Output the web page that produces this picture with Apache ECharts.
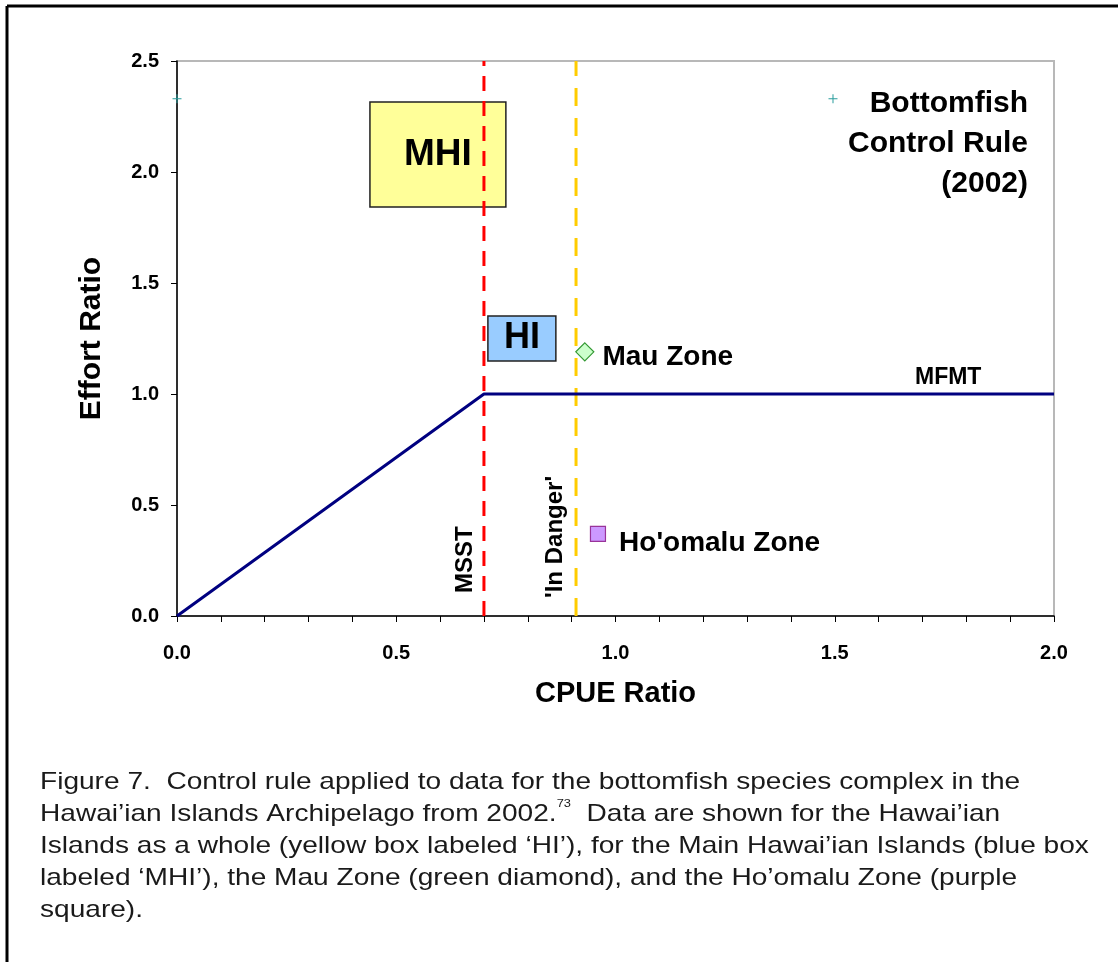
<!DOCTYPE html>
<html>
<head>
<meta charset="utf-8">
<script src="https://cdn.jsdelivr.net/npm/echarts@6/dist/echarts.min.js"></script>
<style>
html,body{margin:0;padding:0;background:#fff;}
#c{width:1118px;height:962px;}
</style>
</head>
<body>
<div id="c"></div>
<script>
// ---- data ----
var ruleX = [0.0, 0.7, 2.0];
var ruleY = [0.0, 1.0, 1.0];
var msstX = 0.7;
var inDangerX = 0.91;
var mauZone = [0.93, 1.19];
var homaluZone = [0.96, 0.37];
var plusPoints = [[0.0, 2.33], [1.496, 2.33]];
var mhiBox = [[0.44, 2.315], [0.75, 1.842]];
var hiBox = [[0.709, 1.351], [0.864, 1.149]];
var xTicks = {min: 0, max: 2.0, interval: 0.1};
var yTicks = {min: 0, max: 2.5, interval: 0.5};

var FONT = 'Liberation Sans, Arial, Helvetica, sans-serif';
var chart = echarts.init(document.getElementById('c'));

function dashed(x, color, dash) {
  return {
    type: 'line', silent: true, symbol: 'none',
    data: [[x, yTicks.min], [x, yTicks.max]],
    lineStyle: {color: color, width: 3, type: dash},
    z: 3
  };
}

var option = {
  backgroundColor: '#fff',
  animation: false,
  grid: {left: 177, top: 61, right: 64, bottom: 346, show: true, borderColor: '#b8b8b8', borderWidth: 2, backgroundColor: 'transparent'},
  xAxis: {
    type: 'value', min: xTicks.min, max: xTicks.max, interval: xTicks.interval,
    name: 'CPUE Ratio', nameLocation: 'middle', nameGap: 63,
    nameTextStyle: {fontFamily: FONT, fontWeight: 'bold', fontSize: 29, color: '#000'},
    axisLine: {show: true, onZero: false, lineStyle: {color: '#000', width: 1.5}},
    axisTick: {show: true, length: 6, inside: false, lineStyle: {color: '#000', width: 1}},
    splitLine: {show: false},
    axisLabel: {
      margin: 27, fontFamily: FONT, fontWeight: 'bold', fontSize: 20, color: '#000',
      formatter: function (v) { var d = v * 2; return Math.abs(d - Math.round(d)) < 1e-6 ? v.toFixed(1) : ''; }
    }
  },
  yAxis: {
    type: 'value', min: yTicks.min, max: yTicks.max, interval: yTicks.interval,
    name: 'Effort Ratio', nameLocation: 'middle', nameGap: 70, nameRotate: 90,
    nameTextStyle: {fontFamily: FONT, fontWeight: 'bold', fontSize: 30, color: '#000'},
    axisLine: {show: true, onZero: false, lineStyle: {color: '#000', width: 1.5}},
    axisTick: {show: true, length: 6, inside: false, lineStyle: {color: '#000', width: 1}},
    splitLine: {show: false},
    axisLabel: {margin: 18, fontFamily: FONT, fontWeight: 'bold', fontSize: 20, color: '#000',
      formatter: function (v) { return v.toFixed(1); }}
  },
  series: [
    {
      type: 'line', name: 'boxes', data: [], z: 4,
      markArea: {
        silent: true,
        itemStyle: {borderColor: '#222', borderWidth: 1.5, opacity: 1},
        label: {show: true, position: 'inside', fontFamily: FONT, fontWeight: 'bold', color: '#000'},
        data: [
          [{coord: mhiBox[0], itemStyle: {color: '#ffff99'}, label: {fontSize: 37, formatter: 'MHI'}}, {coord: mhiBox[1]}],
          [{coord: hiBox[0], itemStyle: {color: '#99ccff'}, label: {fontSize: 36, formatter: 'HI'}}, {coord: hiBox[1]}]
        ]
      }
    },
    dashed(msstX, '#ff0000', [15, 10]),
    dashed(inDangerX, '#ffcc00', [18, 12]),
    {
      type: 'line', name: 'rule', symbol: 'none', z: 5,
      data: ruleX.map(function (x, i) { return [x, ruleY[i]]; }),
      lineStyle: {color: '#000080', width: 3}
    },
    {
      type: 'scatter', name: 'Mau Zone', z: 6,
      data: [mauZone], symbol: 'diamond', symbolSize: [18, 18],
      itemStyle: {color: '#ccffcc', borderColor: '#339933', borderWidth: 1.2, opacity: 1},
      label: {show: true, position: 'right', distance: 8, formatter: 'Mau Zone', fontFamily: FONT, fontWeight: 'bold', fontSize: 28, color: '#000000', textBorderWidth: 0, offset: [0, 5]}
    },
    {
      type: 'scatter', name: "Ho'omalu Zone", z: 6,
      data: [homaluZone], symbol: 'rect', symbolSize: 15,
      itemStyle: {color: '#cc99ff', borderColor: '#993399', borderWidth: 1.2, opacity: 1},
      label: {show: true, position: 'right', distance: 13, formatter: "Ho'omalu Zone", fontFamily: FONT, fontWeight: 'bold', fontSize: 28, color: '#000000', textBorderWidth: 0, offset: [0, 9]}
    },
    {
      type: 'scatter', name: 'plus', z: 6,
      data: plusPoints, symbol: 'path://M4,0h1v4h4v1h-4v4h-1v-4h-4v-1h4z', symbolSize: 9,
      itemStyle: {color: '#2a9d9d', opacity: 1}
    }
  ],
  graphic: [
    {type: 'line', shape: {x1: 7, y1: 6, x2: 1118, y2: 6}, style: {stroke: '#000', lineWidth: 3}},
    {type: 'line', shape: {x1: 7, y1: 6, x2: 7, y2: 962}, style: {stroke: '#000', lineWidth: 3}},
    {type: 'text', x: 1028, y: 84, style: {text: 'Bottomfish\nControl Rule\n(2002)', align: 'right', verticalAlign: 'top', font: 'bold 30px ' + FONT, lineHeight: 40, fill: '#000'}},
    {type: 'text', x: 915, y: 378, style: {text: 'MFMT', font: 'bold 23px ' + FONT, verticalAlign: 'middle', fill: '#000'}},
    {type: 'text', x: 465, y: 593, rotation: Math.PI / 2, style: {text: 'MSST', font: 'bold 24px ' + FONT, align: 'left', verticalAlign: 'middle', fill: '#000'}},
    {type: 'text', x: 555, y: 598, rotation: Math.PI / 2, style: {text: "'In Danger'", font: 'bold 24px ' + FONT, align: 'left', verticalAlign: 'middle', fill: '#000'}},
    {type: 'text', x: 40, y: 766, scaleX: 1.17, style: {
      rich: {n: {font: '24px ' + FONT, fill: '#1a1a1a', lineHeight: 32}, s: {font: '11px ' + FONT, fill: '#1a1a1a', verticalAlign: 'top', lineHeight: 32, padding: [0, 0, 12, 0]}},
      text: '{n|Figure 7.  Control rule applied to data for the bottomfish species complex in the}\n' +
            '{n|Hawai\u2019ian Islands Archipelago from 2002.}{s|73}{n|  Data are shown for the Hawai\u2019ian}\n' +
            '{n|Islands as a whole (yellow box labeled \u2018HI\u2019), for the Main Hawai\u2019ian Islands (blue box}\n' +
            '{n|labeled \u2018MHI\u2019), the Mau Zone (green diamond), and the Ho\u2019omalu Zone (purple}\n' +
            '{n|square).}'
    }}
  ]
};
chart.setOption(option);
</script>
</body>
</html>
